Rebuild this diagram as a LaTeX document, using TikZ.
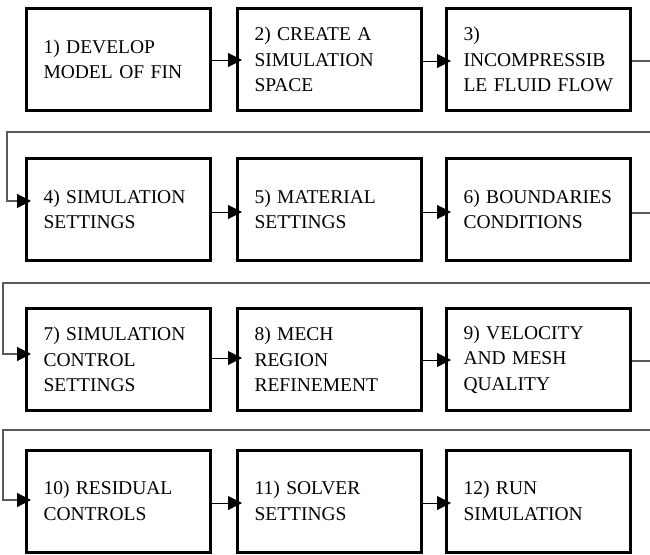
\documentclass[tikz,border=0pt]{standalone}
\usepackage{fontspec}
\setmainfont{Liberation Serif}
\newfontfamily\boxfont{Liberation Serif}
\usetikzlibrary{arrows.meta}
\hyphenpenalty=10000
\exhyphenpenalty=10000
\begin{document}
\begin{tikzpicture}[x=1pt,y=-1pt,
  box/.style={draw=black,line width=3pt,rectangle,minimum width=184pt,minimum height=102pt,
    text width=150pt,inner xsep=17pt,align=left,
    font=\boxfont\fontsize{19.5}{25.5}\selectfont},
  arr/.style={draw=black,line width=1pt,-{Triangle[length=14pt,width=14pt,color=black]}},
  ret/.style={draw=black!65,line width=1.2pt,-{Triangle[length=14pt,width=14pt,color=black]}}]
\useasboundingbox (0,0) rectangle (650,554);
\clip (0,0) rectangle (650,554);
% row 1
\node[box] (n1) at (118.5,59.5) {1) DEVELOP\\MODEL OF FIN};
\node[box] (n2) at (329.5,59.5) {2) CREATE A\\SIMULATION\\SPACE};
\node[box] (n3) at (538.5,59.5) {3)\\INCOMPRESSIB\\LE FLUID FLOW};
% row 2
\node[box] (n4) at (118.5,209.5) {4) SIMULATION\\SETTINGS};
\node[box] (n5) at (329.5,209.5) {5) MATERIAL\\SETTINGS};
\node[box] (n6) at (538.5,209.5) {6) BOUNDARIES\\CONDITIONS};
% row 3
\node[box] (n7) at (118.5,359.5) {7) SIMULATION\\CONTROL\\SETTINGS};
\node[box] (n8) at (329.5,359.5) {8) MECH\\REGION\\REFINEMENT};
\node[box] (n9) at (538.5,359.5) {9) VELOCITY\\AND MESH\\QUALITY};
% row 4
\node[box] (n10) at (118.5,501) {10) RESIDUAL\\CONTROLS};
\node[box] (n11) at (329.5,501) {11) SOLVER\\SETTINGS};
\node[box] (n12) at (538.5,501) {12) RUN\\SIMULATION};
% return coordinates
\coordinate (r1R) at (665,132);
\coordinate (r1L) at (7,132);
\coordinate (r2R) at (665,283);
\coordinate (r2L) at (3,283);
\coordinate (r3R) at (665,430);
\coordinate (r3L) at (3,430);
% row 1 arrows
\draw[arr] ([yshift=-0.5pt]n1.east) -- ([xshift=6pt,yshift=-0.5pt]n2.west);
\draw[arr] ([yshift=-1.5pt]n2.east) -- ([xshift=6pt,yshift=-1.5pt]n3.west);
\draw[ret] ([yshift=-1.5pt]n3.east) -- ([yshift=-1.5pt]n3.east -| r1R) -- (r1R) -- (r1L) |- ([xshift=6pt,yshift=8.5pt]n4.west);
% row 2 arrows
\draw[arr] ([yshift=-2.5pt]n4.east) -- ([xshift=6pt,yshift=-2.5pt]n5.west);
\draw[arr] ([yshift=-2.5pt]n5.east) -- ([xshift=6pt,yshift=-2.5pt]n6.west);
\draw[ret] ([yshift=-3.5pt]n6.east) -- ([yshift=-3.5pt]n6.east -| r2R) -- (r2R) -- (r2L) |- ([xshift=6pt,yshift=5.5pt]n7.west);
% row 3 arrows
\draw[arr] ([yshift=1.5pt]n7.east) -- ([xshift=6pt,yshift=1.5pt]n8.west);
\draw[arr] ([yshift=-0.5pt]n8.east) -- ([xshift=6pt,yshift=-0.5pt]n9.west);
\draw[ret] ([yshift=-1.5pt]n9.east) -- ([yshift=-1.5pt]n9.east -| r3R) -- (r3R) -- (r3L) |- ([xshift=6pt,yshift=1pt]n10.west);
% row 4 arrows
\draw[arr] ([yshift=-2pt]n10.east) -- ([xshift=6pt,yshift=-2pt]n11.west);
\draw[arr] ([yshift=-2pt]n11.east) -- ([xshift=6pt,yshift=-2pt]n12.west);
\end{tikzpicture}
\end{document}
